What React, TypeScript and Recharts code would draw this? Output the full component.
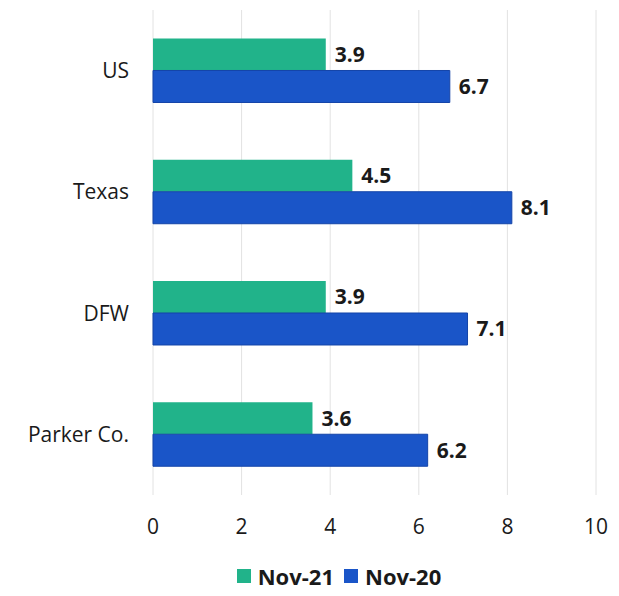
import { Bar, BarChart, CartesianGrid, LabelList, Legend, XAxis, YAxis } from "recharts"

const regions = ["US", "Texas", "DFW", "Parker Co."]
const nov21 = [3.9, 4.5, 3.9, 3.6]
const nov20 = [6.7, 8.1, 7.1, 6.2]
const xTicks = [0, 2, 4, 6, 8, 10]

const data = regions.map((name, i) => ({
  name,
  nov21: nov21[i],
  nov20: nov20[i],
}))

const GREEN = "#21b38a"
const BLUE = "#1a55c8"
const FONT = "'Open Sans', 'Noto Sans', sans-serif"

const legendItems = [
  { label: "Nov-21", color: GREEN },
  { label: "Nov-20", color: BLUE },
]

function ChartLegend() {
  return (
    <div
      style={{
        display: "flex",
        justifyContent: "center",
        alignItems: "center",
        gap: 10,
        fontFamily: FONT,
        fontWeight: 700,
        fontSize: 22,
        color: "#1a1a1a",
        paddingLeft: 82,
      }}
    >
      {legendItems.map((item) => (
        <span key={item.label} style={{ display: "flex", alignItems: "center", gap: 7 }}>
          <span style={{ width: 14, height: 14, background: item.color, display: "inline-block" }} />
          {item.label}
        </span>
      ))}
    </div>
  )
}

export default function App() {
  return (
    <div style={{ position: "absolute", left: 0, top: 0, background: "#fff" }}>
      <BarChart
        width={619}
        height={596}
        data={data}
        layout="vertical"
        margin={{ top: 10, right: 23, left: 0, bottom: 5 }}
        barCategoryGap="23.5%"
        barGap={0}
      >
        <CartesianGrid horizontal={false} stroke="#e2e2e2" />
        <XAxis
          type="number"
          domain={[0, 10]}
          ticks={xTicks}
          axisLine={false}
          tickLine={false}
          tickSize={0}
          tickMargin={24}
          height={66}
          tick={{ fill: "#1a1a1a", fontSize: 21, fontFamily: FONT }}
        />
        <YAxis
          type="category"
          dataKey="name"
          width={153}
          axisLine={false}
          tickLine={false}
          tickSize={0}
          tickMargin={24}
          tick={{ fill: "#1a1a1a", fontSize: 21, fontFamily: FONT }}
        />
        <Legend verticalAlign="bottom" content={<ChartLegend />} />
        <Bar dataKey="nov21" name="Nov-21" fill={GREEN} isAnimationActive={false}>
          <LabelList
            dataKey="nov21"
            position="right"
            offset={9}
            style={{ fill: "#1a1a1a", fontSize: 21, fontWeight: 700, fontFamily: FONT }}
          />
        </Bar>
        <Bar dataKey="nov20" name="Nov-20" fill={BLUE} stroke="#1444a8" strokeWidth={1} isAnimationActive={false}>
          <LabelList
            dataKey="nov20"
            position="right"
            offset={9}
            style={{ fill: "#1a1a1a", fontSize: 21, fontWeight: 700, fontFamily: FONT }}
          />
        </Bar>
      </BarChart>
    </div>
  )
}
